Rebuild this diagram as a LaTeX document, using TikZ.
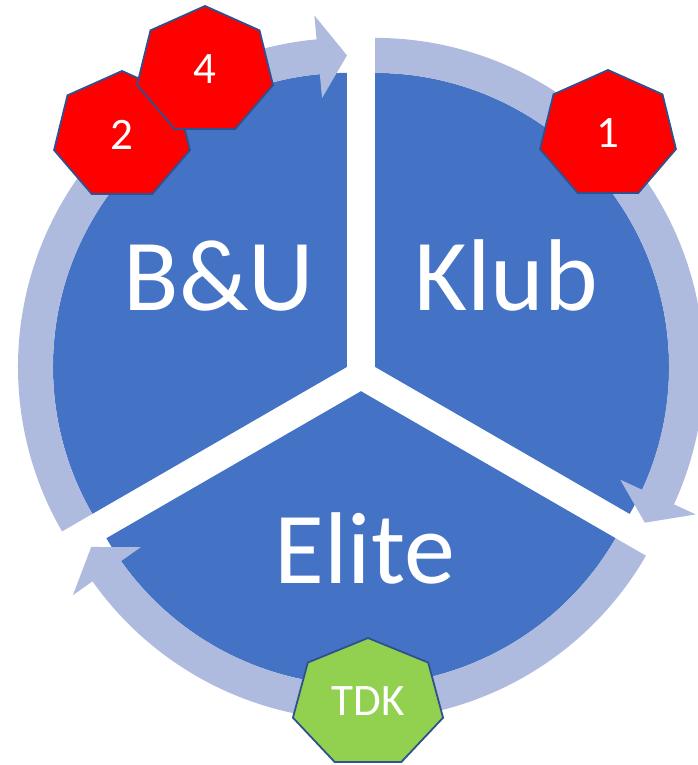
\documentclass[tikz,border=0pt]{standalone}
\usepackage{fontspec}
\setmainfont{Carlito}
\definecolor{segblue}{HTML}{4472C4}
\definecolor{ringblue}{RGB}{175,187,222}
\definecolor{hepred}{HTML}{FF0000}
\definecolor{hepgreen}{HTML}{92D050}
\definecolor{hepline}{HTML}{2F528F}
\tikzset{
  segfill/.style={fill=segblue},
  ringfill/.style={fill=ringblue},
  redhept/.style={fill=hepred, draw=hepline, line width=1.8pt, line join=miter},
  greenhept/.style={fill=hepgreen, draw=hepline, line width=1.8pt, line join=miter},
  bigtext/.style={text=white, font=\fontsize{102}{110}\selectfont, inner sep=0pt, anchor=base},
  smalltext/.style={text=white, font=\fontsize{45}{50}\selectfont, inner sep=0pt, anchor=base},
}
% sector: #1 = angle of bisector, #2 start angle, #3 end angle
\newcommand\segpiece[3]{%
  \begin{scope}[shift={(#1:16.2pt)}]
    \fill[segfill] (0,0) -- (#2:294pt) arc[start angle=#2, end angle=#3, radius=294pt] -- cycle;
  \end{scope}}
% ring arrow: #1 bisector angle, #2 start (larger) angle, #3 end (tip) angle
\newcommand\ringarrow[3]{%
  \begin{scope}[shift={(#1:16.2pt)}]
    \fill[ringfill] (#2:294pt) arc[start angle=#2, end angle={#3+5.3}, radius=294pt]
      -- ({#3+5.3}:270pt) -- (#3:311.5pt) -- ({#3+5.3}:353pt) -- ({#3+5.3}:329pt)
      arc[start angle={#3+5.3}, end angle=#2, radius=329pt] -- cycle;
  \end{scope}}
% heptagon: #1 cx, #2 cy (tikz), #3 rx, #4 ry, #5 style
\newcommand\heptshape[5]{%
  \path[#5] ({#1},{#2+#4}) \foreach \k in {1,...,6}{ -- ({#1+#3*cos(90+\k*360/7)},{#2+#4*sin(90+\k*360/7)}) } -- cycle;}
\begin{document}
\begin{tikzpicture}[x=1pt,y=1pt]
\useasboundingbox (0,0) rectangle (698,-765);
\begin{scope}[shift={(361,-375)}]
  \segpiece{150}{90}{210}
  \segpiece{30}{-30}{90}
  \segpiece{270}{210}{330}
  \ringarrow{150}{210}{90}
  \ringarrow{30}{90}{-30}
  \ringarrow{270}{330}{210}
\end{scope}
\node[bigtext] (bu) at (219,-310) {B\&U};
\node[bigtext] (klub) at (506,-310) {Klub};
\node[bigtext] (elite) at (365,-583) {Elite};
\heptshape{608}{-134.7}{69.7}{64.7}{redhept}
\node[smalltext] (n1) at (608,-147) {1};
\heptshape{122}{-135.7}{69.7}{64.7}{redhept}
\node[smalltext] (n2) at (122,-149) {2};
\heptshape{205}{-70.7}{69.7}{64.7}{redhept}
\node[smalltext] (n4) at (205,-84) {4};
\heptshape{368}{-703.2}{77}{65.2}{greenhept}
\node[smalltext] (tdk) at (368,-715) {TDK};
\end{tikzpicture}
\end{document}
